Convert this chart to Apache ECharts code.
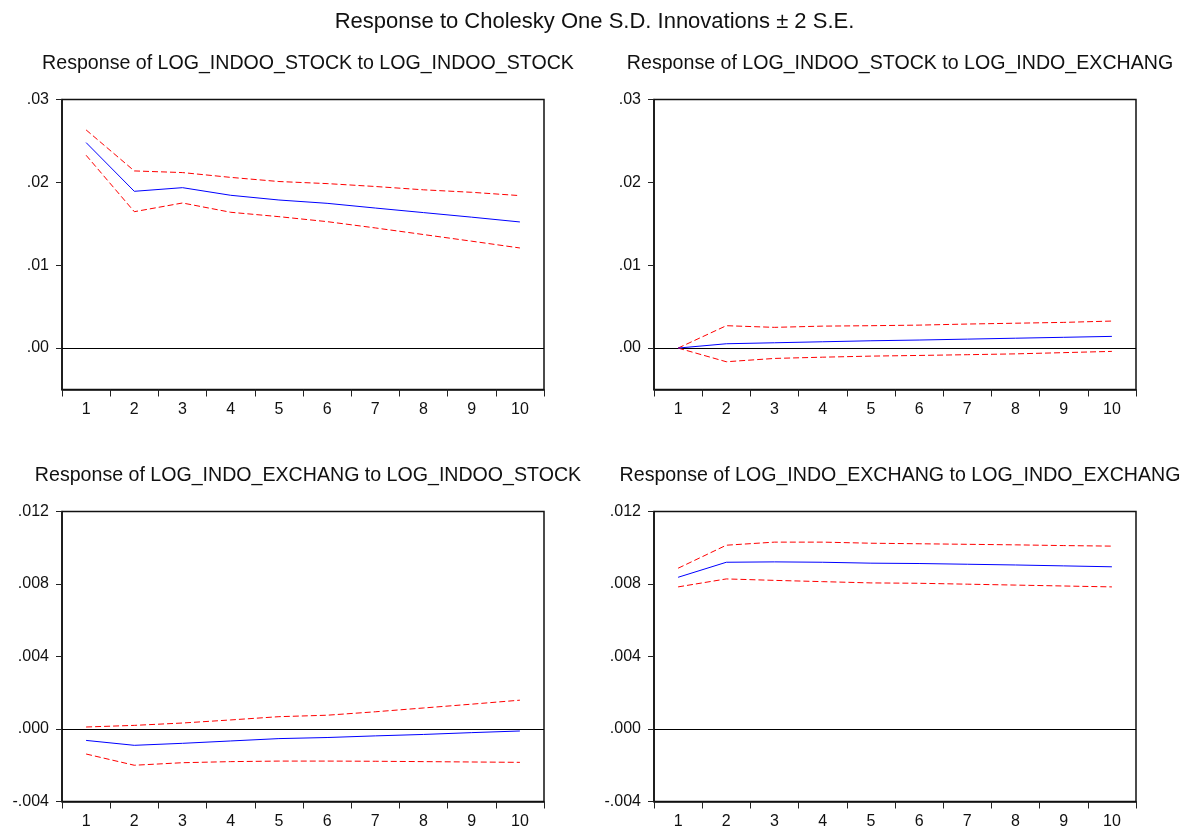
<!DOCTYPE html>
<html>
<head>
<meta charset="utf-8">
<script src="https://cdn.jsdelivr.net/npm/echarts@6/dist/echarts.min.js"></script>
<style>
  html, body { margin: 0; padding: 0; background: #fff; }
  #chart { width: 1189px; height: 830px; }
</style>
</head>
<body>
<div id="chart"></div>
<script>
// ---------- data ----------
const periods = ['1', '2', '3', '4', '5', '6', '7', '8', '9', '10'];

const mainTitle = 'Response to Cholesky One S.D. Innovations \u00B1 2 S.E.';
const panelTitles = [
  'Response of LOG_INDOO_STOCK to LOG_INDOO_STOCK',
  'Response of LOG_INDOO_STOCK to LOG_INDO_EXCHANG',
  'Response of LOG_INDO_EXCHANG to LOG_INDOO_STOCK',
  'Response of LOG_INDO_EXCHANG to LOG_INDO_EXCHANG'
];

// Panel 1: stock -> stock
const p1Resp  = [0.0248, 0.01892, 0.01936, 0.01844, 0.01787, 0.01747, 0.0169, 0.01635, 0.0158, 0.01522];
const p1Upper = [0.02633, 0.02138, 0.02118, 0.0206, 0.0201, 0.01985, 0.0195, 0.0191, 0.0188, 0.0184];
const p1Lower = [0.02327, 0.01646, 0.01751, 0.01639, 0.01586, 0.01526, 0.0145, 0.0137, 0.0129, 0.01208];

// Panel 2: stock <- exchange
const p2Resp  = [0, 0.00052, 0.00064, 0.00076, 0.00088, 0.00097, 0.00108, 0.00119, 0.0013, 0.00141];
const p2Upper = [0, 0.0027, 0.0025, 0.00265, 0.0027, 0.00277, 0.0029, 0.003, 0.0031, 0.00326];
const p2Lower = [0, -0.00165, -0.00125, -0.0011, -0.00097, -0.00089, -0.0008, -0.0007, -0.00055, -0.0004];

// Panel 3: exchange <- stock
const p3Resp  = [-0.00063, -0.0009, -0.00079, -0.00066, -0.00053, -0.00047, -0.00038, -0.0003, -0.0002, -0.00011];
const p3Upper = [0.00011, 0.0002, 0.00033, 0.0005, 0.00068, 0.00076, 0.00095, 0.00116, 0.00137, 0.00159];
const p3Lower = [-0.00138, -0.002, -0.00186, -0.0018, -0.00177, -0.00177, -0.00178, -0.0018, -0.00182, -0.00184];

// Panel 4: exchange -> exchange
const p4Resp  = [0.00837, 0.0092, 0.00922, 0.0092, 0.00915, 0.00913, 0.00909, 0.00905, 0.009, 0.00895];
const p4Upper = [0.00887, 0.01014, 0.01031, 0.01031, 0.01025, 0.01022, 0.01019, 0.01016, 0.01012, 0.01009];
const p4Lower = [0.00784, 0.00828, 0.0082, 0.00813, 0.00806, 0.00804, 0.00799, 0.00794, 0.00789, 0.00784];

// axis settings (tick labels)
const topTicks = [0, 0.01, 0.02, 0.03];
const topMin = -0.005, topMax = 0.03;
const botMin = -0.004, botMax = 0.012, botInterval = 0.004;

// ---------- chart ----------
const FONT = "'Liberation Sans', Arial, sans-serif";
const chart = echarts.init(document.getElementById('chart'), null, { renderer: 'canvas' });

const grids = [
  { left: 62, top: 99.5, width: 482, height: 290 },
  { left: 654, top: 99.5, width: 482, height: 290 },
  { left: 62, top: 511.5, width: 482, height: 290 },
  { left: 654, top: 511.5, width: 482, height: 290 }
].map(g => Object.assign({ show: true, borderColor: '#111', borderWidth: 1.5, backgroundColor: 'transparent' }, g));

function fmt(dec) {
  return function (v) {
    let s = Math.abs(v) < 1e-12 ? (0).toFixed(dec) : v.toFixed(dec);
    return s.replace(/^(-?)0\./, '$1.');
  };
}

const xAxes = grids.map((g, i) => ({
  type: 'category',
  gridIndex: i,
  data: periods,
  boundaryGap: true,
  axisLine: { show: true, onZero: false, lineStyle: { color: '#111', width: 1.5 } },
  axisTick: { show: true, alignWithLabel: false, length: 7, lineStyle: { color: '#222', width: 1 } },
  axisLabel: { color: '#111', fontFamily: FONT, fontSize: 16, margin: 12 },
  splitLine: { show: false }
}));

const yAxes = grids.map((g, i) => {
  const top = i < 2;
  const base = {
    type: 'value',
    gridIndex: i,
    min: top ? topMin : botMin,
    max: top ? topMax : botMax,
    axisLine: { show: true, onZero: false, lineStyle: { color: '#111', width: 1.5 } },
    axisTick: { show: true, length: 6, lineStyle: { color: '#222', width: 1 } },
    axisLabel: { color: '#111', fontFamily: FONT, fontSize: 16, margin: 13, formatter: fmt(top ? 2 : 3) },
    splitLine: { show: false }
  };
  if (top) {
    base.axisLabel.customValues = topTicks;
    base.axisTick.customValues = topTicks;
  } else {
    base.interval = botInterval;
  }
  return base;
});

const panels = [
  [p1Resp, p1Upper, p1Lower],
  [p2Resp, p2Upper, p2Lower],
  [p3Resp, p3Upper, p3Lower],
  [p4Resp, p4Upper, p4Lower]
];

const series = [];
panels.forEach((p, i) => {
  series.push({
    type: 'line', xAxisIndex: i, yAxisIndex: i, data: p[1], symbol: 'none', silent: true, z: 3,
    lineStyle: { color: '#ff0000', width: 1, type: [6, 3] }
  });
  series.push({
    type: 'line', xAxisIndex: i, yAxisIndex: i, data: p[2], symbol: 'none', silent: true, z: 3,
    lineStyle: { color: '#ff0000', width: 1, type: [6, 3] }
  });
  series.push({
    type: 'line', xAxisIndex: i, yAxisIndex: i, data: p[0], symbol: 'none', silent: true, z: 4,
    lineStyle: { color: '#0000ff', width: 1 },
    markLine: {
      silent: true, symbol: ['none', 'none'], label: { show: false }, z: 2,
      lineStyle: { color: '#000', width: 1, type: 'solid' },
      data: [{ yAxis: 0 }]
    }
  });
});

const subStyle = { fontFamily: FONT, fontSize: 19.6, fontWeight: 'normal', color: '#111' };
const titles = [
  { text: mainTitle, left: 'center', top: 6, textStyle: { fontFamily: FONT, fontSize: 22, fontWeight: 'normal', color: '#111' } },
  { text: panelTitles[0], left: 303, textAlign: 'center', top: 49, textStyle: subStyle },
  { text: panelTitles[1], left: 895, textAlign: 'center', top: 49, textStyle: subStyle },
  { text: panelTitles[2], left: 303, textAlign: 'center', top: 461, textStyle: subStyle },
  { text: panelTitles[3], left: 895, textAlign: 'center', top: 461, textStyle: subStyle }
];

chart.setOption({
  animation: false,
  backgroundColor: '#fff',
  title: titles,
  grid: grids,
  xAxis: xAxes,
  yAxis: yAxes,
  series: series
});
</script>
</body>
</html>
